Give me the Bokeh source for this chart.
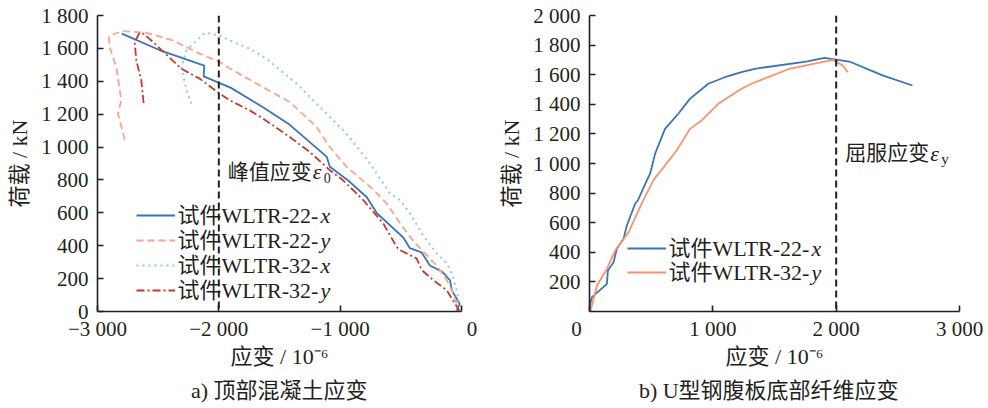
from bokeh.plotting import figure
from bokeh.layouts import row, column
from bokeh.models import FixedTicker, Span, Label, Legend, LegendItem
from bokeh.embed import file_html
from bokeh.resources import INLINE

FONT = "Liberation Serif, Noto Sans CJK SC"

# ---------------- data: (a) top concrete strain ----------------
a_xticks = [-3000, -2000, -1000, 0]
a_xlabels = ["\u22123 000", "\u22122 000", "\u22121 000", "\u00a0\u00a0\u00a0\u00a00"]
a_yticks = [0, 200, 400, 600, 800, 1000, 1200, 1400, 1600, 1800]
a_ylabels = ["0", "200", "400", "600", "800", "1 000", "1 200", "1 400", "1 600", "1 800"]

s22x_strain = [-2800, -2490, -2120, -2125, -1900, -1620, -1415, -1110, -1085, -940, -780, -700,
               -480, -425, -330, -260, -155, -95, -80, -15, -40]
s22x_load = [1690, 1590, 1495, 1430, 1360, 1235, 1135, 940, 880, 800, 695, 600,
             450, 385, 360, 280, 240, 190, 130, 45, 5]

s22y_strain = [-2775, -2832, -2804, -2845, -2900, -2906, -2859, -2790, -2597, -2378, -2158, -1993,
               -1910, -1662, -1415, -1195, -1085, -947, -740, -617, -466, -384, -287, -194, -122, -70, -29]
s22y_load = [1045, 1203, 1284, 1486, 1608, 1669, 1689, 1705, 1695, 1648, 1568, 1517,
             1478, 1375, 1274, 1122, 1000, 879, 750, 657, 495, 416, 343, 270, 191, 112, 21]

s32x_strain = [-2226, -2267, -2308, -2267, -2116, -1993, -1910, -1745, -1607, -1360, -1112, -947,
               -755, -590, -507, -425, -318, -205, -122, -81, -40, -12]
s32x_load = [1264, 1345, 1486, 1588, 1695, 1679, 1648, 1598, 1537, 1386, 1203, 1082,
             900, 718, 677, 598, 464, 354, 293, 233, 130, 29]

s32y_strain = [-2620, -2639, -2680, -2694, -2653, -2620, -2556, -2308, -2158, -1993, -1910, -1745,
               -1635, -1415, -1250, -1085, -977, -865, -810, -645, -535, -507, -370, -328, -233,
               -122, -81, -18]
s32y_load = [1268, 1406, 1527, 1638, 1695, 1689, 1648, 1476, 1416, 1325, 1284, 1223,
             1173, 1061, 970, 859, 798, 718, 677, 536, 393, 373, 323, 252, 191,
             130, 80, 5]

a_names = ["\u8bd5\u4ef6WLTR-22-", "\u8bd5\u4ef6WLTR-22-", "\u8bd5\u4ef6WLTR-32-", "\u8bd5\u4ef6WLTR-32-"]
a_dirs = ["x", "y", "x", "y"]
peak_strain = -2000
a_caption = "a)  \u9876\u90e8\u6df7\u51dd\u571f\u5e94\u53d8"

# ---------------- data: (b) U-steel web bottom fibre strain ----------------
b_xticks = [0, 1000, 2000, 3000]
b_xlabels = ["0\u00a0\u00a0\u00a0\u00a0\u00a0", "1 000", "2 000", "3 000"]
b_yticks = [200, 400, 600, 800, 1000, 1200, 1400, 1600, 1800, 2000]
b_ylabels = ["200", "400", "600", "800", "1 000", "1 200", "1 400", "1 600", "1 800", "2 000"]

b22x_strain = [0, 20, 141, 149, 195, 222, 276, 303, 370, 392, 464, 491, 532, 612, 720, 814,
               963, 1097, 1232, 1339, 1757, 1905, 2107, 2376, 2619]
b22x_load = [34, 97, 187, 277, 333, 424, 491, 581, 728, 750, 885, 930, 1066, 1234, 1336, 1437,
             1539, 1583, 1617, 1640, 1689, 1714, 1689, 1595, 1527]

b32y_strain = [7, 61, 141, 208, 317, 437, 520, 707, 814, 909, 1044, 1232, 1313, 1622, 1972, 2053, 2094]
b32y_load = [0, 176, 289, 412, 536, 754, 889, 1088, 1234, 1291, 1403, 1505, 1539, 1640, 1700, 1662, 1617]

b_names = ["\u8bd5\u4ef6WLTR-22-", "\u8bd5\u4ef6WLTR-32-"]
b_dirs = ["x", "y"]
yield_strain = 2000
b_caption = "b)  U\u578b\u94a2\u8179\u677f\u5e95\u90e8\u7ea4\u7ef4\u5e94\u53d8"

BLUE = "#3b74b6"
SALMON = "#f6a68c"
LIGHTBLUE = "#8ccbe3"
RED = "#c7392c"
ORANGE = "#f7936f"
TXT = "#231f20"

FIG_H = 375
CAP_H = 33


def base_fig(width, xr, yr, mbl, mbr, xticks, xlabels, yticks, ylabels):
    p = figure(width=width, height=FIG_H, x_range=xr, y_range=yr,
               output_backend="svg", toolbar_location=None,
               min_border_left=mbl, min_border_right=mbr,
               min_border_top=15, min_border_bottom=64)
    p.outline_line_color = None
    p.xgrid.visible = False
    p.ygrid.visible = False
    p.background_fill_color = "white"
    p.border_fill_color = "white"
    for ax in (p.xaxis[0], p.yaxis[0]):
        ax.axis_line_color = TXT
        ax.axis_line_width = 1.6
        ax.major_tick_line_color = TXT
        ax.major_tick_line_width = 1.6
        ax.major_tick_in = 6
        ax.major_tick_out = 0
        ax.minor_tick_line_color = None
        ax.major_label_text_font = FONT
        ax.major_label_text_font_size = "21px"
        ax.major_label_text_color = TXT
        ax.axis_label_text_font = FONT
        ax.axis_label_text_font_size = "22px"
        ax.axis_label_text_font_style = "normal"
        ax.axis_label_text_color = TXT
    p.xaxis.ticker = FixedTicker(ticks=xticks)
    p.xaxis.major_label_overrides = {t: l for t, l in zip(xticks, xlabels)}
    p.yaxis.ticker = FixedTicker(ticks=yticks)
    p.yaxis.major_label_overrides = {t: l for t, l in zip(yticks, ylabels)}
    p.xaxis.major_label_standoff = 5
    p.yaxis.major_label_standoff = 9
    p.xaxis.axis_label = "\u5e94\u53d8 / 10\u207b\u2076"
    p.yaxis.axis_label = "\u8377\u8f7d / kN"
    p.xaxis.axis_label_standoff = 0
    p.yaxis.axis_label_standoff = 6
    return p


def add_legend(p, x0, y0, names, dirs, renderers, loc, pitch, text_dx, row_y):
    # legend samples drawn by Bokeh's Legend, texts placed as labels (relative to frame corner)
    leg = Legend(items=[LegendItem(label=" ", renderers=[r]) for r in renderers],
                 location=loc, border_line_color=None, background_fill_alpha=0,
                 padding=0, margin=0, spacing=pitch - 20, glyph_width=39, glyph_height=20,
                 label_height=20, label_width=1, label_standoff=0,
                 label_text_font_size="6px")
    p.add_layout(leg)
    for i, (n, d) in enumerate(zip(names, dirs)):
        yo = row_y - i * pitch
        p.add_layout(Label(x=x0, y=y0, x_offset=text_dx, y_offset=yo, text=n,
                           text_font=FONT, text_font_size="22px", text_baseline="middle",
                           text_color=TXT))
        p.add_layout(Label(x=x0, y=y0, x_offset=text_dx + 143, y_offset=yo, text=d,
                           text_font=FONT, text_font_size="22px", text_font_style="italic",
                           text_baseline="middle", text_color=TXT))


def add_marker_text(p, x, y, word, sub, sub_size):
    p.add_layout(Label(x=x, y=y, x_offset=9, text=word,
                       text_font=FONT, text_font_size="21px", text_baseline="middle", text_color=TXT))
    p.add_layout(Label(x=x, y=y, x_offset=94, text="\u03b5",
                       text_font=FONT, text_font_size="22px", text_font_style="italic",
                       text_baseline="middle", text_color=TXT))
    p.add_layout(Label(x=x, y=y, x_offset=105, y_offset=-6, text=sub,
                       text_font=FONT, text_font_size=sub_size,
                       text_baseline="middle", text_color=TXT))


# ---------------- panel (a) ----------------
p1 = base_fig(496, (-3000, 0), (0, 1800), 97, 35, a_xticks, a_xlabels, a_yticks, a_ylabels)
r1 = p1.line(s22x_strain, s22x_load, line_color=BLUE, line_width=1.8)
r2 = p1.line(s22y_strain, s22y_load, line_color=SALMON, line_width=1.8, line_dash="7 4")
r3 = p1.line(s32x_strain, s32x_load, line_color=LIGHTBLUE, line_width=2, line_dash="2 4")
r4 = p1.line(s32y_strain, s32y_load, line_color=RED, line_width=1.8, line_dash="8 3 2 3")
p1.add_layout(Span(location=peak_strain, dimension="height", line_color=TXT,
                   line_width=2, line_dash="7 4"))
add_legend(p1, -3000, 0, a_names, a_dirs, [r1, r2, r3, r4], (39, 11), 25, 80, 96.5)
add_marker_text(p1, peak_strain, 850, "\u5cf0\u503c\u5e94\u53d8", "0", "14px")

# ---------------- panel (b) ----------------
p2 = base_fig(492, (0, 3000), (0, 2000), 91, 29, b_xticks, b_xlabels, b_yticks, b_ylabels)
q1 = p2.line(b22x_strain, b22x_load, line_color=BLUE, line_width=1.8)
q2 = p2.line(b32y_strain, b32y_load, line_color=ORANGE, line_width=1.8)
p2.add_layout(Span(location=yield_strain, dimension="height", line_color=TXT,
                   line_width=2, line_dash="7 4"))
add_legend(p2, 0, 0, b_names, b_dirs, [q1, q2], (38, 29), 24, 79, 63)
add_marker_text(p2, yield_strain, 1068, "\u5c48\u670d\u5e94\u53d8", "y", "15px")

# ---------------- captions strip ----------------
cap = figure(width=988, height=CAP_H, x_range=(0, 988), y_range=(0, CAP_H),
             output_backend="svg", toolbar_location=None,
             x_axis_type=None, y_axis_type=None,
             min_border_left=0, min_border_right=0, min_border_top=0, min_border_bottom=0)
cap.outline_line_color = None
cap.xgrid.visible = False
cap.ygrid.visible = False
cap.add_layout(Label(x=281.5, y=18, text=a_caption, text_align="center", text_baseline="middle",
                     text_font=FONT, text_font_size="22px", text_color=TXT))
cap.add_layout(Label(x=771, y=18, text=b_caption, text_align="center", text_baseline="middle",
                     text_font=FONT, text_font_size="22px", text_color=TXT))

layout = column(row(p1, p2), cap)
open("out.html", "w").write(file_html(layout, INLINE))
